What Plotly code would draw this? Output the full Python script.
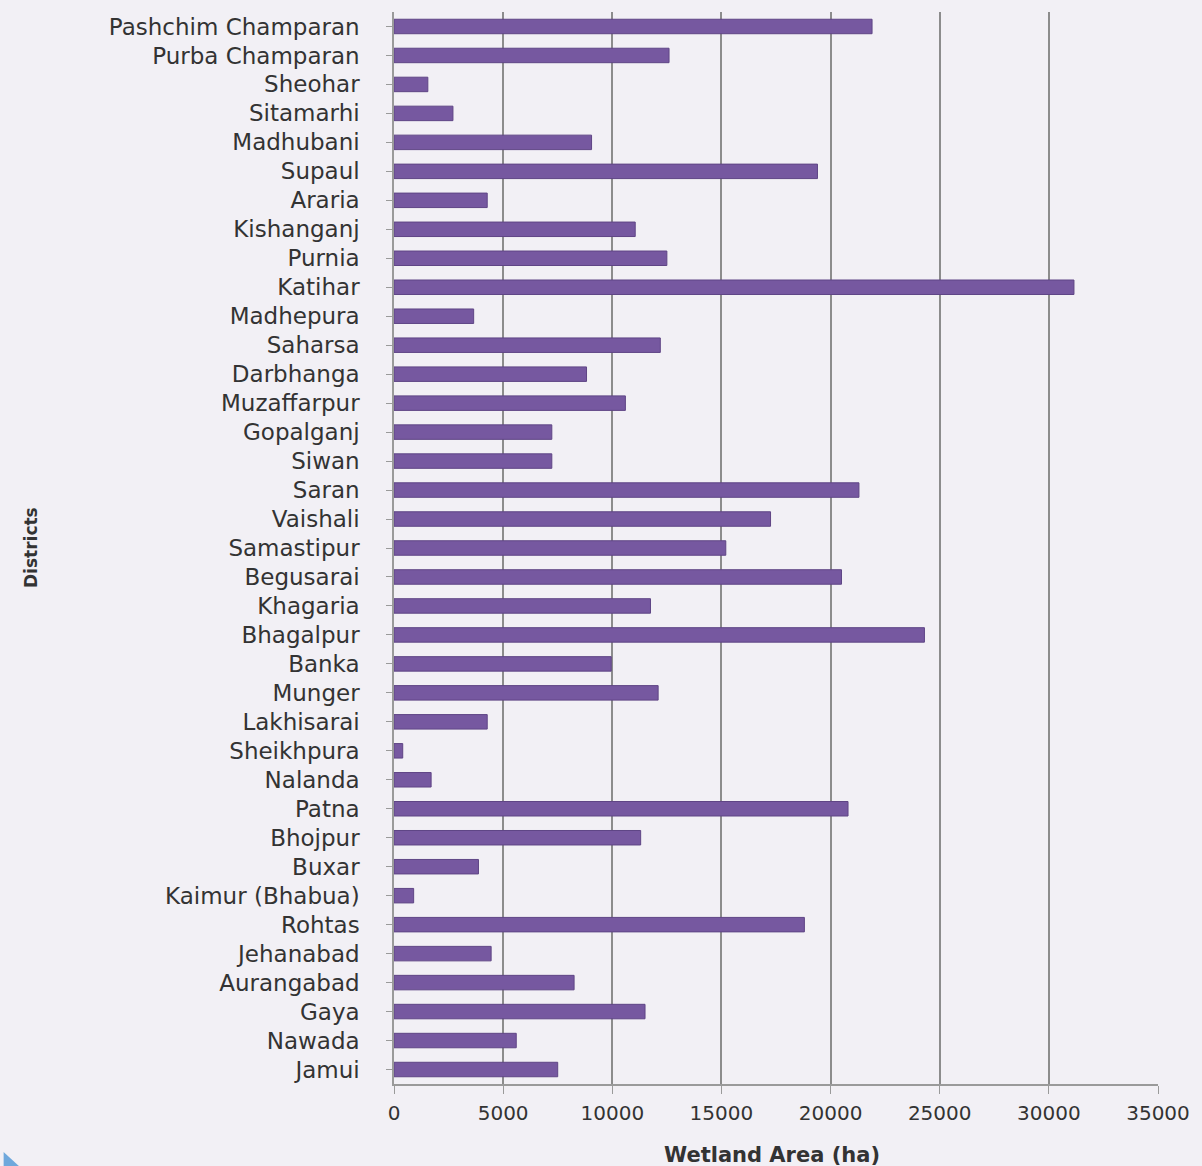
import plotly.graph_objects as go

districts = ["Pashchim Champaran", "Purba Champaran", "Sheohar", "Sitamarhi", "Madhubani",
             "Supaul", "Araria", "Kishanganj", "Purnia", "Katihar", "Madhepura", "Saharsa",
             "Darbhanga", "Muzaffarpur", "Gopalganj", "Siwan", "Saran", "Vaishali",
             "Samastipur", "Begusarai", "Khagaria", "Bhagalpur", "Banka", "Munger",
             "Lakhisarai", "Sheikhpura", "Nalanda", "Patna", "Bhojpur", "Buxar",
             "Kaimur (Bhabua)", "Rohtas", "Jehanabad", "Aurangabad", "Gaya", "Nawada", "Jamui"]
wetland_area = [21900, 12600, 1550, 2700, 9050, 19400, 4270, 11050, 12500, 31150, 3650, 12200,
                8820, 10600, 7230, 7230, 21300, 17250, 15200, 20500, 11750, 24300, 9950, 12100,
                4270, 400, 1700, 20800, 11300, 3870, 900, 18800, 4450, 8250, 11500, 5600, 7500]
x_ticks = [0, 5000, 10000, 15000, 20000, 25000, 30000, 35000]

bg = "#f2f0f5"
fig = go.Figure(go.Bar(
    y=districts, x=wetland_area, orientation="h",
    marker=dict(color="#7658a0", line=dict(color="#5f4585", width=1)),
    width=0.5,
))

fig.update_layout(
    width=1202, height=1166,
    margin=dict(l=394, r=37, t=12, b=82),
    paper_bgcolor=bg, plot_bgcolor=bg,
    showlegend=False,
    font=dict(family="DejaVu Sans", color="#333333"),
    shapes=[dict(type="path", xref="paper", yref="paper",
                 path="M -0.511 -0.0765 L -0.511 -0.0634 L -0.491 -0.0765 Z",
                 fillcolor="#6fa8dc", line=dict(width=0))],
    annotations=[
        dict(text="<b>Wetland Area (ha)</b>", xref="paper", yref="paper", x=0.495, y=0,
             xanchor="center", yanchor="middle", yshift=-71, showarrow=False,
             font=dict(size=21, color="#333333", family="DejaVu Sans")),
        dict(text="<b>Districts</b>", xref="paper", yref="paper", x=0, y=0.5,
             xanchor="center", yanchor="middle", xshift=-363, yshift=0, textangle=-90,
             showarrow=False, font=dict(size=17, color="#333333", family="DejaVu Sans")),
    ],
)
fig.update_xaxes(
    range=[0, 35000], tickvals=x_ticks, ticktext=[str(v) for v in x_ticks],
    showgrid=True, gridcolor="#8c8c8c", gridwidth=1.5,
    showline=True, linecolor="#9a9a9a", linewidth=1.5,
    ticks="outside", ticklen=8, tickcolor="#9a9a9a",
    ticklabelstandoff=2, zeroline=False,
    tickfont=dict(size=20, color="#333333", family="DejaVu Sans"),
)
fig.update_yaxes(
    categoryorder="array", categoryarray=districts, autorange="reversed",
    showline=True, linecolor="#9a9a9a", linewidth=1.5,
    ticks="outside", ticklen=6, tickcolor="#9a9a9a",
    tickfont=dict(size=23, color="#333333", family="DejaVu Sans"),
    ticklabelstandoff=22,
)

fig.write_html("out.html")
